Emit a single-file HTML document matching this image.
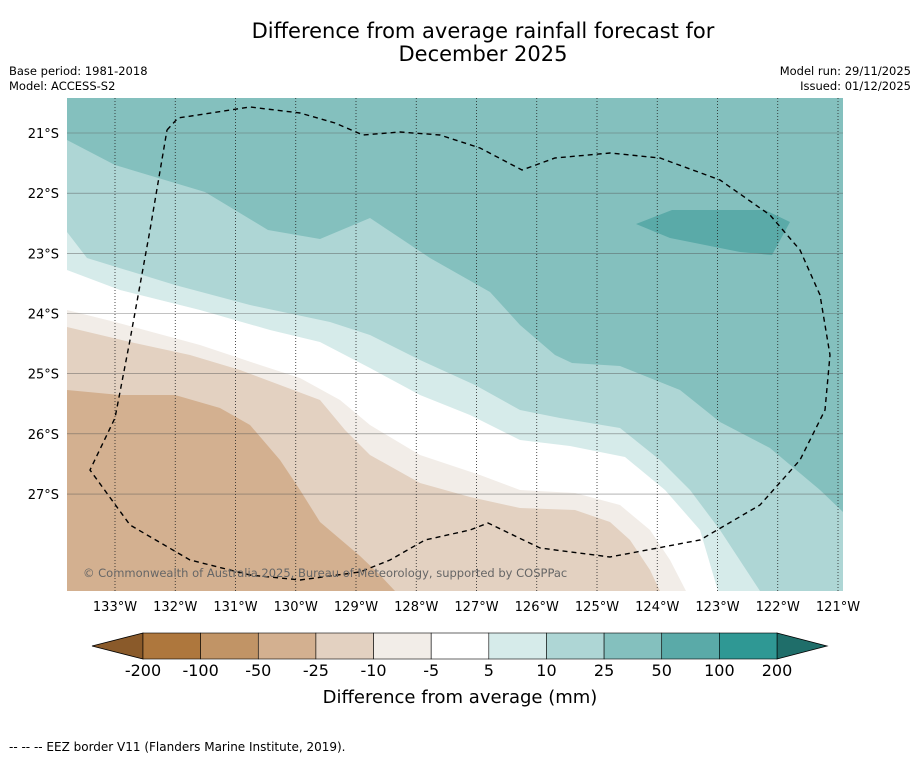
<!DOCTYPE html>
<html><head><meta charset="utf-8">
<style>
body{margin:0;background:#fff;width:919px;height:758px;overflow:hidden;font-family:"DejaVu Sans","Liberation Sans",sans-serif}
svg{position:absolute;left:0;top:0;font-family:"DejaVu Sans","Liberation Sans",sans-serif}
</style></head>
<body>
<svg id="chart" width="919" height="758" viewBox="0 0 919 758"></svg>
<script>
// ---- data ----
const lonTicks=[133,132,131,130,129,128,127,126,125,124,123,122,121];
const latTicks=[21,22,23,24,25,26,27];
const cbBounds=[-200,-100,-50,-25,-10,-5,5,10,25,50,100,200];
const cbColors=['#ae773d','#c19466','#d3b090','#e3d1c1','#f2ede8','#ffffff','#d6ebea','#aed6d5','#84c0be','#5aaaa8','#2f9894'];
const cbLow='#8a5a2a', cbHigh='#1f6e6a';
const contourLevels=[10,5,-5,-10,-25];
const contourFill=['#aed6d5','#d6ebea','#ffffff','#f2ede8','#e3d1c1','#d3b090'];
const contourPx=[
 [[67,140],[115,165],[205,192],[268,230],[320,239],[370,218],[400,238],[430,258],[490,292],[520,325],[555,355],[572,363],[620,366],[680,390],[720,422],[770,448],[820,490],[843,512]],
 [[67,232],[87,258],[175,285],[250,305],[330,322],[370,335],[420,360],[475,385],[520,410],[560,418],[620,428],[660,460],[690,490],[720,530],[760,591]],
 [[67,270],[120,290],[200,310],[270,330],[320,342],[370,368],[420,395],[470,415],[520,440],[570,446],[625,457],[665,490],[700,530],[718,591]],
 [[67,310],[115,322],[200,345],[260,365],[300,378],[340,400],[370,425],[420,455],[480,475],[520,490],[575,493],[620,505],[650,530],[670,560],[686,591]],
 [[67,327],[130,342],[190,355],[240,370],[280,385],[320,400],[345,430],[370,455],[420,483],[470,497],[520,508],[575,510],[610,522],[630,540],[650,570],[660,591]],
 [[67,390],[120,395],[175,395],[220,408],[250,425],[280,460],[300,490],[320,522],[360,556],[380,575],[395,591]]
];
const patchPx=[[636,224],[672,210],[765,210],[790,222],[772,255],[740,252],[670,238]];
const eezPx=[[167,130],[178,118],[250,107],[300,113],[335,123],[363,135],[400,132],[440,135],[480,148],[522,170],[555,158],[610,153],[660,158],[720,180],[770,215],[800,250],[820,295],[830,355],[825,410],[800,460],[760,505],[700,540],[610,557],[540,548],[488,523],[470,530],[425,540],[390,560],[360,572],[300,580],[250,575],[190,560],[130,525],[90,470],[115,418],[130,340],[150,230],[167,130]];
// ---- axes ----
const X0=67,X1=843,Y0=98,Y1=591;
const xOf=lon=>115+(133-lon)*60.25;
const yOf=lat=>133+(lat-21)*60.17;
const lonOf=x=>133-(x-115)/60.25, latOf=y=>21+(y-133)/60.17;
const toLL=a=>a.map(p=>[lonOf(p[0]),latOf(p[1])]);
const contours=contourPx.map(toLL), patch=toLL(patchPx), eez=toLL(eezPx);
const NS='http://www.w3.org/2000/svg', svg=document.getElementById('chart');
function mk(t,a,p){const e=document.createElementNS(NS,t);for(const k in a)e.setAttribute(k,a[k]);(p||svg).appendChild(e);return e;}
function txt(s,x,y,size,anchor,fill,p){const e=mk('text',{x:x,y:y,'font-size':size,'text-anchor':anchor||'start',fill:fill||'#000'},p);e.textContent=s;return e;}
const pts=a=>a.map(p=>xOf(p[0]).toFixed(1)+','+yOf(p[1]).toFixed(1)).join(' ');

mk('defs',{}).innerHTML='<clipPath id="mc"><rect x="67" y="98" width="776" height="493"/></clipPath>';
const g=mk('g',{'clip-path':'url(#mc)'});


mk('rect',{x:X0,y:Y0,width:X1-X0,height:Y1-Y0,fill:'#84c0be'},g);
contours.forEach((c,i)=>{
  const extra=[[lonOf(X1+5),latOf(Y1+5)],[lonOf(X0-5),latOf(Y1+5)]];
  const pg=mk('polygon',{points:pts(c.concat(extra)),fill:contourFill[i]},g);
  
  
});
const pt=mk('polygon',{points:pts(patch),fill:'#5aaaa8'},g);


lonTicks.forEach(l=>mk('line',{x1:xOf(l),x2:xOf(l),y1:Y0,y2:Y1,stroke:'#222','stroke-width':0.8,'stroke-dasharray':'1,2'},g));
latTicks.forEach(l=>mk('line',{x1:X0,x2:X1,y1:yOf(l),y2:yOf(l),stroke:'#555','stroke-width':0.6,opacity:0.7},g));
const ez=mk('polyline',{points:pts(eez),fill:'none',stroke:'#000','stroke-width':1.4,'stroke-dasharray':'5,4'},g);


txt('© Commonwealth of Australia 2025, Bureau of Meteorology, supported by COSPPac',83,577,11.5,'start','#666',g);
lonTicks.forEach(l=>txt(l+'°W',xOf(l),611,13,'middle'));
latTicks.forEach(l=>txt(l+'°S',59,yOf(l)+5,13,'end'));
txt('Difference from average rainfall forecast for',483,38,21,'middle');
txt('December 2025',483,61,21,'middle');
txt('Base period: 1981-2018',9,75,11.5);
txt('Model: ACCESS-S2',9,90,11.5);
txt('Model run: 29/11/2025',911,75,11.5,'end');
txt('Issued: 01/12/2025',911,90,11.5,'end');
const cbX=b=>143+cbBounds.indexOf(b)*((777-143)/(cbBounds.length-1));
const cbY0=633,cbY1=659;
mk('polygon',{points:`143,${cbY0} 92,646 143,${cbY1}`,fill:cbLow,stroke:'#000','stroke-width':0.8});
mk('polygon',{points:`777,${cbY0} 827,646 777,${cbY1}`,fill:cbHigh,stroke:'#000','stroke-width':0.8});
cbColors.forEach((c,i)=>{
  const r=mk('rect',{x:cbX(cbBounds[i]),y:cbY0,width:cbX(cbBounds[i+1])-cbX(cbBounds[i]),height:cbY1-cbY0,fill:c,stroke:'#000','stroke-width':0.6});
  
  
});
cbBounds.forEach(b=>txt(String(b),cbX(b),676,16,'middle'));
txt('Difference from average (mm)',460,703,18,'middle');
txt('--  --  -- EEZ border V11 (Flanders Marine Institute, 2019).',9,751,12);
</script>
</body></html>
